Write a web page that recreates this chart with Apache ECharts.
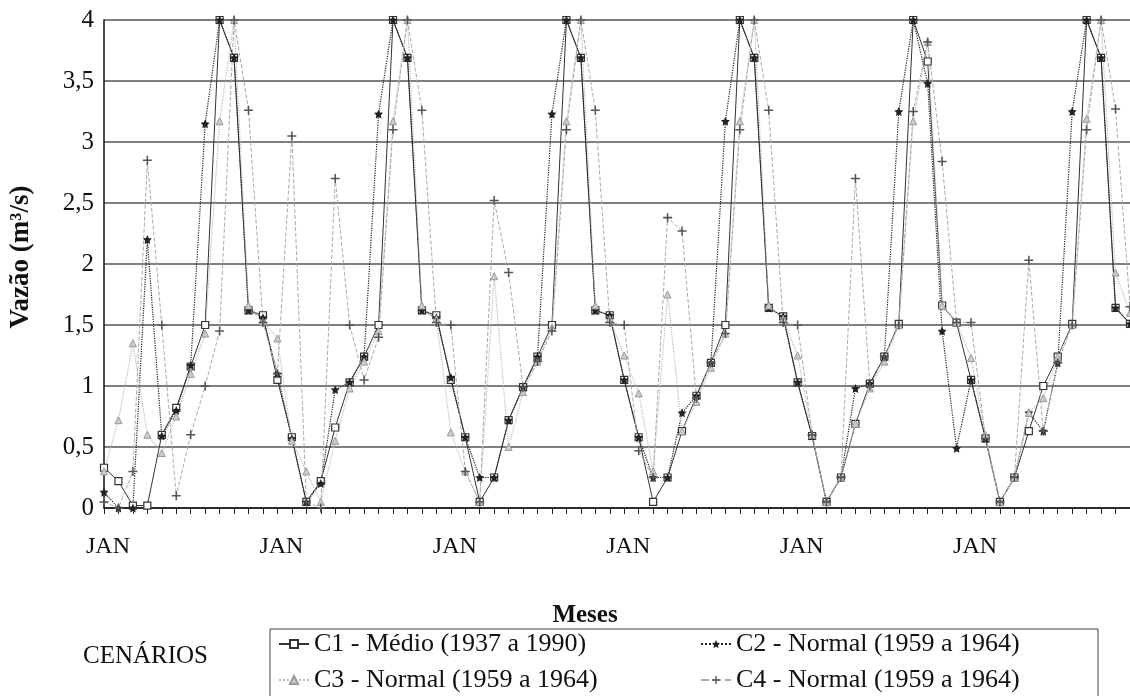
<!DOCTYPE html>
<html>
<head>
<meta charset="utf-8">
<script src="https://cdn.jsdelivr.net/npm/echarts@6/dist/echarts.min.js"></script>
<style>
html,body{margin:0;padding:0;background:#fff;}
#chart{width:1130px;height:696px;}
</style>
</head>
<body>
<div id="chart"></div>
<script>
// ---- data ----
const monthNames = ['JAN','FEV','MAR','ABR','MAI','JUN','JUL','AGO','SET','OUT','NOV','DEZ'];
const nYears = 6;
const yTickLabels = ['0','0,5','1','1,5','2','2,5','3','3,5','4'];
const seriesNames = ['C1 - Médio (1937 a 1990)','C2 - Normal (1959 a 1964)','C3 - Normal (1959 a 1964)','C4 - Normal (1959 a 1964)'];

const c1 = [
  0.33,0.22,0.02,0.02,0.60,0.82,1.16,1.50,4.00,3.69,1.62,1.58,
  1.05,0.58,0.05,0.22,0.66,1.03,1.24,1.50,4.00,3.69,1.62,1.58,
  1.05,0.58,0.05,0.25,0.72,0.99,1.24,1.50,4.00,3.69,1.62,1.58,
  1.05,0.58,0.05,0.25,0.63,0.92,1.19,1.50,4.00,3.69,1.64,1.57,
  1.03,0.59,0.05,0.25,0.69,1.02,1.24,1.51,4.00,3.66,1.66,1.52,
  1.05,0.57,0.05,0.25,0.63,1.00,1.24,1.51,4.00,3.69,1.64,1.51
];
const c2 = [
  0.13,0.00,0.00,2.20,0.59,0.80,1.17,3.15,4.00,3.69,1.62,1.56,
  1.10,0.57,0.05,0.20,0.97,1.03,1.24,3.23,4.00,3.69,1.62,1.56,
  1.07,0.58,0.25,0.25,0.72,0.99,1.24,3.23,4.00,3.69,1.62,1.58,
  1.05,0.58,0.25,0.25,0.78,0.92,1.19,3.17,4.00,3.69,1.64,1.57,
  1.03,0.59,0.05,0.25,0.98,1.02,1.24,3.25,4.00,3.48,1.45,0.49,
  1.05,0.57,0.05,0.25,0.78,0.63,1.19,3.25,4.00,3.69,1.64,1.51
];
const c3 = [
  0.30,0.72,1.35,0.60,0.45,0.75,1.10,1.43,3.17,4.00,1.66,1.53,
  1.39,0.55,0.30,0.05,0.55,0.98,1.20,1.45,3.17,4.00,1.66,1.55,
  0.62,0.30,0.05,1.90,0.50,0.95,1.20,1.48,3.17,4.00,1.66,1.55,
  1.25,0.94,0.30,1.75,0.63,0.87,1.15,1.43,3.17,4.00,1.66,1.55,
  1.25,0.60,0.05,0.25,0.69,0.98,1.20,1.50,3.17,3.82,1.66,1.52,
  1.23,0.60,0.05,0.25,0.78,0.90,1.24,1.50,3.19,4.00,1.93,1.60
];
const c4 = [
  0.05,0.00,0.30,2.85,1.50,0.10,0.60,1.00,1.45,4.00,3.26,1.52,
  1.10,3.05,0.05,0.00,2.70,1.50,1.05,1.40,3.10,4.00,3.26,1.52,
  1.50,0.30,0.05,2.52,1.93,0.99,1.20,1.45,3.10,4.00,3.26,1.52,
  1.50,0.47,0.25,2.38,2.27,0.90,1.19,1.43,3.10,4.00,3.26,1.52,
  1.50,0.60,0.05,0.25,2.70,1.00,1.24,1.50,3.25,3.82,2.84,1.52,
  1.52,0.57,0.05,0.25,2.03,0.63,1.19,1.50,3.10,4.00,3.27,1.65
];

const categories = [];
for (let y = 0; y < nYears; y++) for (let m = 0; m < 12; m++) categories.push(monthNames[m]);

// ---- chart ----
const FONT = '"Liberation Serif", "DejaVu Serif", serif';
const starPath = 'path://M0,-10L2.9,-4L9.5,-3.1L4.7,1.5L5.9,8.1L0,5L-5.9,8.1L-4.7,1.5L-9.5,-3.1L-2.9,-4Z';
const plusPath = 'path://M-1.2,-7H1.2V-1.2H7V1.2H1.2V7H-1.2V1.2H-7V-1.2H-1.2Z';

const chart = echarts.init(document.getElementById('chart'), null, {renderer: 'canvas'});

function mkLegend(name, left, top) {
  return {
    data: [name], left: left, top: top, orient: 'horizontal',
    itemWidth: 30, itemHeight: 10, itemGap: 6, padding: 0,
    textStyle: {fontFamily: FONT, fontSize: 26, color: '#111'},
    selectedMode: false
  };
}

chart.setOption({
  animation: false,
  backgroundColor: '#fff',
  grid: {left: 104, right: 0, top: 20, bottom: 188, containLabel: false},
  xAxis: {
    type: 'category',
    data: categories,
    boundaryGap: false,
    axisLine: {lineStyle: {color: '#111', width: 1.5}},
    axisTick: {show: true, interval: 0, length: 6, lineStyle: {color: '#222', width: 1}},
    axisLabel: {interval: 11, fontFamily: FONT, fontSize: 24, color: '#111', margin: 27, padding: [0, 0, 0, 8]},
    splitLine: {show: false},
    name: 'Meses',
    nameLocation: 'middle',
    nameGap: 95,
    nameTextStyle: {fontFamily: FONT, fontSize: 25, fontWeight: 'bold', color: '#111', padding: [0, 64, 0, 0]}
  },
  yAxis: {
    type: 'value',
    min: 0, max: 4, interval: 0.5,
    axisLine: {show: true, lineStyle: {color: '#111', width: 1.5}},
    axisTick: {show: false},
    axisLabel: {fontFamily: FONT, fontSize: 25, color: '#111', margin: 10,
      formatter: v => yTickLabels[Math.round(v / 0.5)]},
    splitLine: {show: true, lineStyle: {color: '#555', width: 1.5}},
    name: 'Vazão (m³/s)',
    nameLocation: 'middle',
    nameGap: 69,
    nameTextStyle: {fontFamily: FONT, fontSize: 27, fontWeight: 'bold', color: '#111', padding: [0, 0, 0, 14]}
  },
  legend: [
    mkLegend(seriesNames[0], 278, 631),
    mkLegend(seriesNames[1], 700, 631),
    mkLegend(seriesNames[2], 278, 667),
    mkLegend(seriesNames[3], 700, 667)
  ],
  graphic: [
    {type: 'text', left: 83, top: 644, style: {text: 'CENÁRIOS', font: '25px ' + FONT, fill: '#111'}},
    {type: 'rect', shape: {x: 270, y: 629, width: 828, height: 80}, style: {fill: 'none', stroke: '#444', lineWidth: 1}}
  ],
  series: [
    {name: seriesNames[0], type: 'line', data: c1, symbol: 'rect', symbolSize: 7,
      lineStyle: {color: '#333', width: 1}, itemStyle: {color: '#fff', borderColor: '#333', borderWidth: 1.2}},
    {name: seriesNames[1], type: 'line', data: c2, symbol: starPath, symbolSize: 9,
      lineStyle: {color: '#222', width: 1.2, type: 'dotted'}, itemStyle: {color: '#222'}},
    {name: seriesNames[2], type: 'line', data: c3, symbol: 'triangle', symbolSize: 7,
      lineStyle: {color: '#bbb', width: 1.2, type: 'dotted'}, itemStyle: {color: '#ccc', borderColor: '#999', borderWidth: 1}},
    {name: seriesNames[3], type: 'line', data: c4, symbol: plusPath, symbolSize: 9,
      lineStyle: {color: '#aaa', width: 1, type: 'dashed'}, itemStyle: {color: '#555'}}
  ]
});
</script>
</body>
</html>
